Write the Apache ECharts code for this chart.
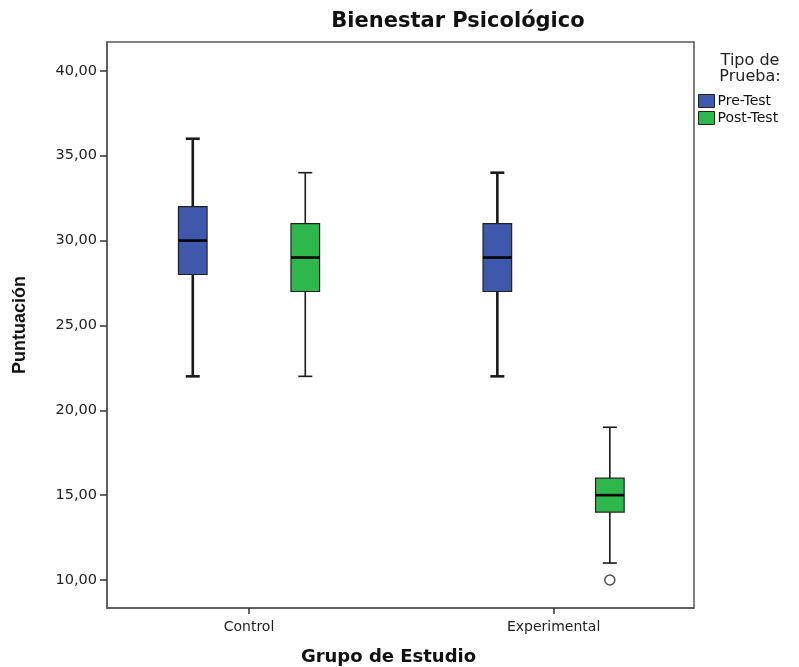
<!DOCTYPE html>
<html>
<head>
<meta charset="utf-8">
<script src="https://cdn.jsdelivr.net/npm/echarts@6/dist/echarts.min.js"></script>
<style>html,body{margin:0;padding:0;background:#fff}#c{width:799px;height:667px}</style>
</head>
<body>
<div id="c"></div>
<script>
// ---- data ----
const categories = ['Control', 'Experimental'];
const seriesNames = ['Pre-Test', 'Post-Test'];
// [low whisker, Q1, median, Q3, high whisker] per category
const preTest = [[22, 28, 30, 32, 36], [22, 27, 29, 31, 34]];
const postTest = [[22, 27, 29, 31, 34], [11, 14, 15, 16, 19]];
// outliers: [category index, series index, value]
const outliers = [[1, 1, 10]];
const yTicks = [10, 15, 20, 25, 30, 35, 40];

const groupOffset = 0.1847; // half the distance between Pre and Post boxes, in category units
const colors = ['#3E58AC', '#2EB84B'];
const whiskerWidths = [2.6, 1.6];

function boxRenderer(si) {
  return function (params, api) {
    const cat = api.value(0);
    const x = cat + (si === 0 ? -groupOffset : groupOffset);
    const low = api.coord([x, api.value(1)]);
    const q1 = api.coord([x, api.value(2)]);
    const med = api.coord([x, api.value(3)]);
    const q3 = api.coord([x, api.value(4)]);
    const high = api.coord([x, api.value(5)]);
    const hw = 14.3, cap = 7;
    const cx = low[0];
    const lw = whiskerWidths[si];
    const lineStyle = { stroke: '#1a1a1a', lineWidth: lw };
    return {
      type: 'group',
      children: [
        { type: 'line', shape: { x1: cx, y1: high[1], x2: cx, y2: q3[1] }, style: lineStyle },
        { type: 'line', shape: { x1: cx, y1: q1[1], x2: cx, y2: low[1] }, style: lineStyle },
        { type: 'line', shape: { x1: cx - cap, y1: high[1], x2: cx + cap, y2: high[1] }, style: lineStyle },
        { type: 'line', shape: { x1: cx - cap, y1: low[1], x2: cx + cap, y2: low[1] }, style: lineStyle },
        { type: 'rect', shape: { x: cx - hw, y: q3[1], width: hw * 2, height: q1[1] - q3[1] },
          style: { fill: colors[si], stroke: '#222', lineWidth: 1.2 } },
        { type: 'line', shape: { x1: cx - hw, y1: med[1], x2: cx + hw, y2: med[1] },
          style: { stroke: '#000', lineWidth: 2.6 } }
      ]
    };
  };
}

function toRows(arr) {
  return arr.map((v, i) => [i + 1].concat(v));
}

const chart = echarts.init(document.getElementById('c'), null, { renderer: 'canvas' });
const fmt = v => Number(v).toFixed(2).replace('.', ',');

chart.setOption({
  backgroundColor: '#fff',
  animation: false,
  title: [
    { text: 'Bienestar Psicológico', left: 453, top: 6, textAlign: 'center',
      textStyle: { fontFamily: 'DejaVu Sans', fontWeight: 'bold', fontSize: 21, color: '#111' } },
    { text: 'Tipo de\nPrueba:', left: 745, top: 48, textAlign: 'center',
      textStyle: { fontFamily: 'DejaVu Sans', fontWeight: 'normal', fontSize: 16, lineHeight: 16, color: '#222' } }
  ],
  legend: {
    orient: 'vertical', left: 698, top: 94, padding: 0,
    itemWidth: 16, itemHeight: 13, itemGap: 3,
    icon: 'rect',
    data: seriesNames,
    textStyle: { fontFamily: 'DejaVu Sans', fontSize: 14, color: '#111', padding: [0, 0, 0, -2] },
    itemStyle: { borderColor: '#222', borderWidth: 1 }
  },
  grid: { left: 107, right: 105, top: 42, bottom: 59, show: true, borderColor: '#555', borderWidth: 1.5,
    containLabel: false, outerBoundsMode: 'none' },
  xAxis: {
    type: 'value', min: 0.5337, max: 2.461,
    name: 'Grupo de Estudio', nameLocation: 'middle', nameGap: 40,
    nameTextStyle: { fontFamily: 'DejaVu Sans', fontWeight: 'bold', fontSize: 18, color: '#111', padding: [0, 24, 0, 0] },
    axisLine: { show: true, lineStyle: { color: '#555', width: 1.5 } },
    axisTick: { show: true, length: 6, customValues: [1, 2], lineStyle: { color: '#333', width: 1.5 } },
    axisLabel: { customValues: [1, 2], formatter: v => categories[Math.round(v) - 1], margin: 12,
      fontFamily: 'DejaVu Sans', fontSize: 14, color: '#222' },
    splitLine: { show: false }
  },
  yAxis: {
    type: 'value', min: 8.35, max: 41.7,
    name: 'Puntuación', nameLocation: 'middle', nameGap: 78,
    nameTextStyle: { fontFamily: 'Liberation Sans', fontWeight: 'bold', fontSize: 18, color: '#111' },
    axisLine: { show: true, lineStyle: { color: '#555', width: 1.5 } },
    axisTick: { show: true, length: 7, customValues: yTicks, lineStyle: { color: '#333', width: 1.5 } },
    axisLabel: { customValues: yTicks, formatter: fmt, margin: 10,
      fontFamily: 'DejaVu Sans', fontSize: 14.5, color: '#222' },
    splitLine: { show: false }
  },
  series: [
    { name: seriesNames[0], type: 'custom', renderItem: boxRenderer(0), itemStyle: { color: colors[0] },
      encode: { x: 0, y: [1, 2, 3, 4, 5] }, data: toRows(preTest) },
    { name: seriesNames[1], type: 'custom', renderItem: boxRenderer(1), itemStyle: { color: colors[1] },
      encode: { x: 0, y: [1, 2, 3, 4, 5] }, data: toRows(postTest) },
    { name: 'outliers', type: 'scatter', symbol: 'circle', symbolSize: 10,
      itemStyle: { color: '#fff', borderColor: '#222', borderWidth: 1.5 },
      data: outliers.map(o => [o[0] + 1 + (o[1] === 0 ? -groupOffset : groupOffset), o[2]]) }
  ]
});
</script>
</body>
</html>
